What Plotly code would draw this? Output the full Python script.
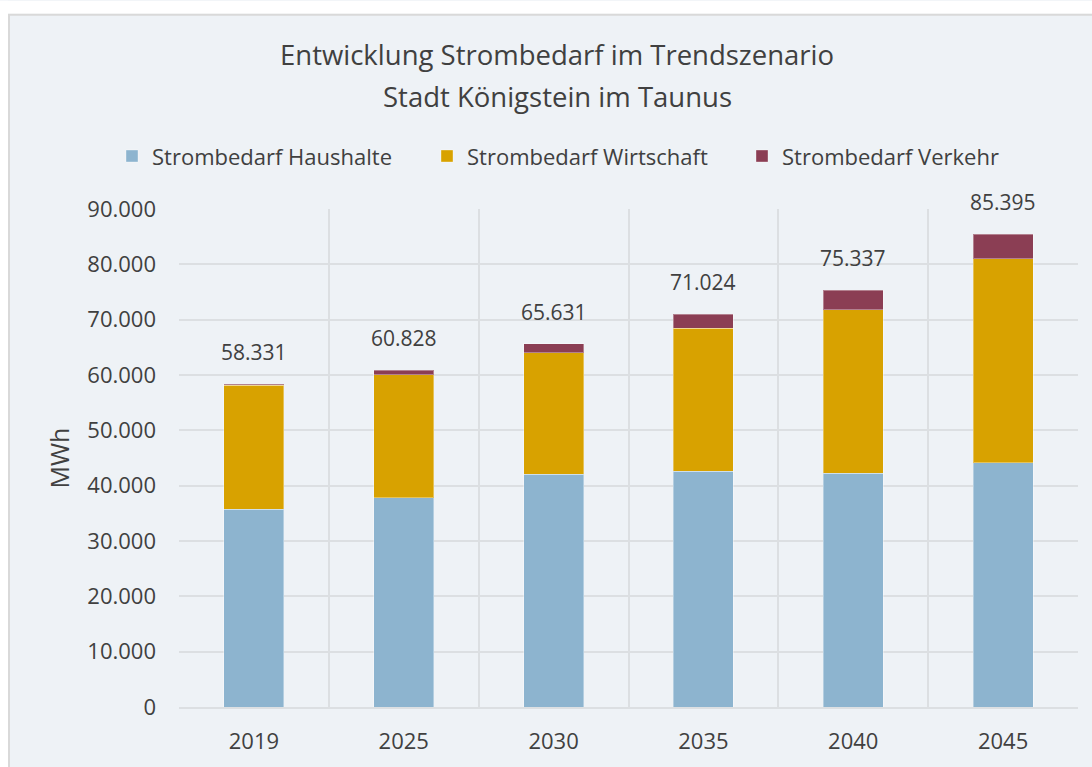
import plotly.graph_objects as go

# Strombedarf in MWh je Stützjahr
years = ["2019", "2025", "2030", "2035", "2040", "2045"]
haushalte = [35750, 37850, 42090, 42630, 42210, 44130]
wirtschaft = [22431, 22200, 21910, 25810, 29590, 36890]
verkehr = [150, 778, 1631, 2584, 3537, 4375]

y_ticks = [0, 10000, 20000, 30000, 40000, 50000, 60000, 70000, 80000, 90000]

BG = "#eef2f6"
TXT = "#404040"
GRID = "#dcdfe2"
BORDER = "#d9d9d9"
FONT = "Open Sans, Noto Sans, sans-serif"

W, H = 1092, 767
ML, MR, MT, MB = 179, 14, 209, 58
PW, PH = W - ML - MR, H - MT - MB


def px_x(p):
    return (p - ML) / PW


def px_y(p):
    return 1 + (MT - p) / PH


fig = go.Figure()
series = [
    ("Strombedarf Haushalte", haushalte, "#8db4cf"),
    ("Strombedarf Wirtschaft", wirtschaft, "#d8a200"),
    ("Strombedarf Verkehr", verkehr, "#8b3e54"),
]
for name, vals, color in series:
    fig.add_trace(go.Bar(
        x=years, y=vals, name=name,
        marker=dict(color=color, line=dict(color="rgba(255,255,255,0.35)", width=1)),
        width=0.4,
    ))

# Summenbeschriftung über jedem Balken (x als Kategorienindex)
totals = [h + w + v for h, w, v in zip(haushalte, wirtschaft, verkehr)]
for i, tot in enumerate(totals):
    fig.add_annotation(
        x=i, y=tot, text=f"{tot:,}".replace(",", "."),
        showarrow=False, yshift=32, font=dict(size=21, color=TXT, family=FONT),
    )

# zweizeiliger Titel
for text, yp in [("Entwicklung Strombedarf im Trendszenario", 54),
                 ("Stadt Königstein im Taunus", 96)]:
    fig.add_annotation(
        xref="paper", yref="paper", x=px_x(557), y=px_y(yp),
        xanchor="center", yanchor="middle", showarrow=False, text=text,
        font=dict(size=27.5, color=TXT, family=FONT),
    )

# weißer Rand oben und links, graue Umrandung der Diagrammfläche
fig.add_shape(type="rect", xref="paper", yref="paper",
              x0=px_x(0), x1=px_x(W + 5), y0=px_y(0), y1=px_y(13),
              fillcolor="white", line=dict(width=0), layer="below")
fig.add_shape(type="rect", xref="paper", yref="paper",
              x0=px_x(0), x1=px_x(8), y0=px_y(0), y1=px_y(H + 5),
              fillcolor="white", line=dict(width=0), layer="below")
fig.add_shape(type="rect", xref="paper", yref="paper",
              x0=px_x(9), x1=px_x(W + 10), y0=px_y(14), y1=px_y(H + 10),
              fillcolor="rgba(0,0,0,0)", line=dict(width=2, color=BORDER), layer="below")

fig.update_layout(
    barmode="stack",
    width=W, height=H,
    margin=dict(l=ML, r=MR, t=MT, b=MB),
    paper_bgcolor=BG, plot_bgcolor=BG,
    separators=",.",
    font=dict(family=FONT, color=TXT, size=22),
    legend=dict(
        orientation="h", x=px_x(112), xanchor="left", y=px_y(156), yanchor="middle",
        font=dict(size=22, color=TXT), itemwidth=30, traceorder="normal",
        entrywidth=270, bgcolor="rgba(0,0,0,0)",
    ),
    showlegend=True,
)
fig.update_xaxes(
    type="category", range=[-0.5, 5.5], tickson="boundaries", showgrid=True,
    gridcolor=GRID, gridwidth=2,
    ticks="", showline=True, linecolor=GRID, linewidth=2,
    tickfont=dict(size=22, color=TXT), tickangle=0, ticklabelstandoff=14,
)
fig.update_yaxes(
    range=[0, 90000], tickvals=y_ticks, tickformat=",.0f",
    showgrid=True, gridcolor=GRID, gridwidth=2, zeroline=False,
    title=dict(text="MWh", font=dict(size=25, color=TXT), standoff=10),
    tickfont=dict(size=22, color=TXT), ticks="", ticklabelstandoff=22,
)

fig.write_html("out.html")
